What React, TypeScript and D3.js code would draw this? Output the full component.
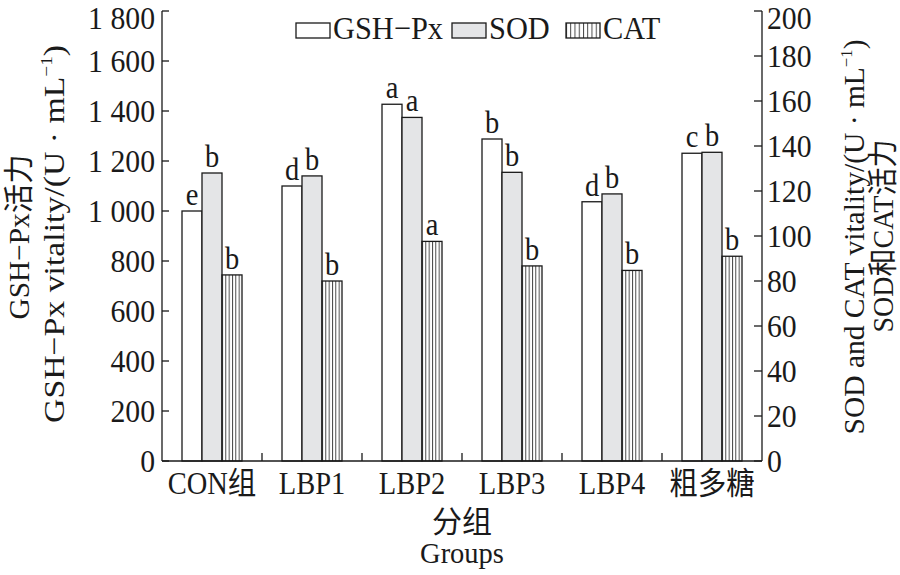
import React from "react";
import * as d3 from "d3";

const groups = ["CON组", "LBP1", "LBP2", "LBP3", "LBP4", "粗多糖"];
const gshpx = [1000, 1100, 1427, 1288, 1037, 1231];
const sod = [128, 126.7, 152.7, 128.3, 118.7, 137.2];
const cat = [82.7, 80, 97.6, 86.7, 84.7, 91];
const gshLetters = ["e", "d", "a", "b", "d", "c"];
const sodLetters = ["b", "b", "a", "b", "b", "b"];
const catLetters = ["b", "b", "a", "b", "b", "b"];
const leftTicks = [0, 200, 400, 600, 800, 1000, 1200, 1400, 1600, 1800];
const rightTicks = [0, 20, 40, 60, 80, 100, 120, 140, 160, 180, 200];
const seriesNames = ["GSH−Px", "SOD", "CAT"];

const FONT = "'Liberation Serif','Times New Roman','Noto Sans CJK SC',serif";
const SX = 0.92;
const INK = "#1a1a1a";

function T(props: any) {
  const { x, y, rotate = 0, size = 31, anchor = "middle", children, sx = SX, len } = props;
  return (
    <text
      transform={`translate(${x},${y}) rotate(${rotate}) scale(${sx},1)`}
      textAnchor={anchor}
      fontSize={size}
      fontFamily={FONT}
      fill={INK}
      textLength={len}
      lengthAdjust={len ? "spacingAndGlyphs" : undefined}
    >
      {children}
    </text>
  );
}

export default function App() {
  const W = 900, H = 575;
  const left = 162, right = 762, top = 11, bottom = 461;
  const x = d3.scaleBand<string>().domain(groups).range([left, right]).padding(0);
  const yL = d3.scaleLinear().domain([0, 1800]).range([bottom, top]);
  const yR = d3.scaleLinear().domain([0, 200]).range([bottom, top]);
  const bw = 20;
  const inner = d3.scaleBand<number>().domain([0, 1, 2]).range([20, 80]).padding(0);
  const fmt = (v: number) => d3.format(",")(v).replace(",", " ");

  const series = [
    { vals: gshpx, scale: yL, fill: "#ffffff", letters: gshLetters },
    { vals: sod, scale: yR, fill: "#e4e5e7", letters: sodLetters },
    { vals: cat, scale: yR, fill: "url(#hatch)", letters: catLetters },
  ];

  const hatchX = (x(groups[0]) as number) + (inner(2) as number);
  const legendItems = [
    { bx: 296, fill: "#ffffff" },
    { bx: 452, fill: "#e4e5e7" },
    { bx: 566, fill: "url(#hatchL)" },
  ];

  return (
    <svg width={W} height={H} style={{ position: "absolute", left: 0, top: 0, background: "#fff" }}>
      <defs>
        <pattern id="hatch" patternUnits="userSpaceOnUse" x={hatchX} y={0} width={bw / 6} height={10}>
          <rect width={bw / 6} height={10} fill="#fff" />
          <line x1={0.5} x2={0.5} y1={0} y2={10} stroke="#333" strokeWidth={0.9} />
        </pattern>
        <pattern id="hatchL" patternUnits="userSpaceOnUse" x={566} y={0} width={34 / 8} height={10}>
          <rect width={34 / 8} height={10} fill="#fff" />
          <line x1={0.5} x2={0.5} y1={0} y2={10} stroke="#333" strokeWidth={0.9} />
        </pattern>
      </defs>
      <rect width={W} height={H} fill="#fff" />

      {/* bars */}
      {groups.map((g, gi) =>
        series.map((s, si) => {
          const bx = (x(g) as number) + (inner(si) as number);
          const yv = s.scale(s.vals[gi]);
          return (
            <g key={g + si}>
              <rect x={bx} y={yv} width={bw} height={bottom - yv} fill={s.fill} stroke={INK} strokeWidth={1.3} />
              <T x={bx + bw / 2} y={yv - 6} size={31}>{s.letters[gi]}</T>
            </g>
          );
        })
      )}

      {/* axes */}
      <line x1={left} x2={left} y1={top} y2={bottom} stroke={INK} strokeWidth={1.3} />
      <line x1={right} x2={right} y1={top} y2={bottom} stroke={INK} strokeWidth={1.3} />
      <line x1={left} x2={right} y1={bottom} y2={bottom} stroke={INK} strokeWidth={1.3} />
      {leftTicks.map((v) => (
        <g key={"l" + v}>
          <line x1={left} x2={left + 7} y1={yL(v)} y2={yL(v)} stroke={INK} strokeWidth={1.3} />
          <T x={155} y={yL(v) + 10.5 + (v === 1800 ? 7 : 0)} anchor="end" size={31} sx={0.96}>{fmt(v)}</T>
        </g>
      ))}
      {rightTicks.map((v) => (
        <g key={"r" + v}>
          <line x1={right - 8} x2={right} y1={yR(v)} y2={yR(v)} stroke={INK} strokeWidth={1.3} />
          <T x={767} y={yR(v) + 10.5 + (v === 200 ? 7 : 0)} anchor="start" size={31} sx={0.96}>{String(v)}</T>
        </g>
      ))}
      {groups.slice(1).map((g) => (
        <line key={"t" + g} x1={x(g) as number} x2={x(g) as number} y1={bottom} y2={bottom - 8} stroke={INK} strokeWidth={1.3} />
      ))}
      {groups.map((g) => (
        <T key={"xl" + g} x={(x(g) as number) + x.bandwidth() / 2} y={494} size={31}>{g}</T>
      ))}

      {/* axis titles */}
      <T x={(left + right) / 2} y={532} size={30} sx={1}>分组</T>
      <T x={(left + right) / 2} y={563} size={28.5} sx={1}>Groups</T>

      <T x={29} y={237} rotate={-90} size={30} sx={1} len={165}>GSH−Px活力</T>
      <T x={64} y={234} rotate={-90} size={30} sx={1} len={378}>
        GSH−Px vitality/(U · mL<tspan fontSize={17} dy={-12}>−1</tspan><tspan dy={12}>)</tspan>
      </T>
      <T x={864} y={237} rotate={-90} size={30} sx={1} len={395}>
        SOD and CAT vitality/(U · mL<tspan fontSize={17} dy={-12}>−1</tspan><tspan dy={12}>)</tspan>
      </T>
      <T x={893} y={236} rotate={-90} size={30} sx={1} len={193}>SOD和CAT活力</T>

      {/* legend */}
      {legendItems.map((it, i) => (
        <g key={"lg" + i}>
          <rect x={it.bx} y={23} width={34} height={15} fill={it.fill} stroke={INK} strokeWidth={1.3} />
          <T x={it.bx + 37} y={39} anchor="start" size={32} sx={0.95}>{seriesNames[i]}</T>
        </g>
      ))}
    </svg>
  );
}
